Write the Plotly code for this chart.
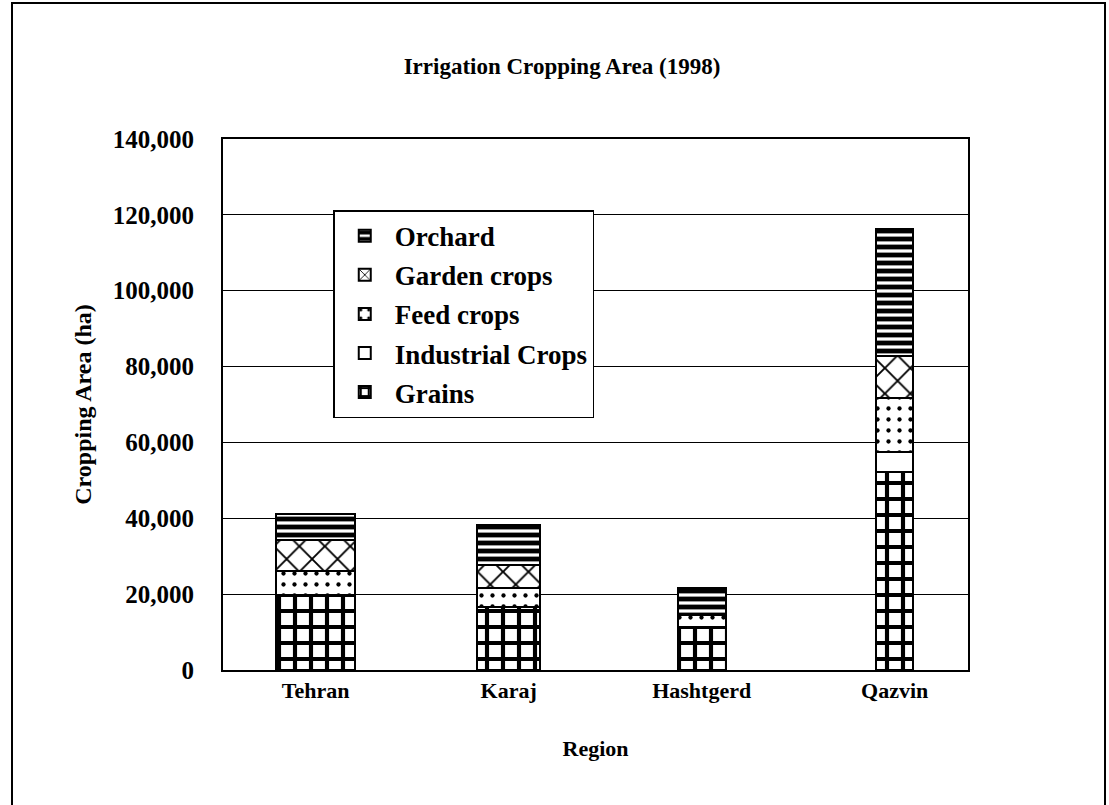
import plotly.graph_objects as go

# Irrigation cropping area by region, 1998 (ha)
regions = ["Tehran", "Karaj", "Hashtgerd", "Qazvin"]
grains = [19700, 16600, 11300, 52100]
industrial_crops = [0, 0, 0, 5300]
feed_crops = [6300, 5000, 3200, 14200]
garden_crops = [8200, 6000, 0, 11300]
orchard = [6800, 10500, 7100, 33400]

y_ticks = [0, 20000, 40000, 60000, 80000, 100000, 120000, 140000]

series = [
    ("Grains", grains, dict(shape="+", size=16, solidity=0.45)),
    ("Industrial Crops", industrial_crops, dict(shape="")),
    ("Feed crops", feed_crops, dict(shape=".", size=11, solidity=0.12)),
    ("Garden crops", garden_crops, dict(shape="x", size=18, solidity=0.2)),
    ("Orchard", orchard, dict(shape="-", size=8, solidity=0.6)),
]

bar_widths = [0.41, 0.33, 0.25, 0.19]
serif = "Liberation Serif"

fig = go.Figure()
for i, (name, vals, pat) in enumerate(series):
    fig.add_trace(go.Bar(
        name=name,
        x=regions,
        y=vals,
        width=bar_widths,
        legendgroup=f"g{i}",
        legendrank=len(series) - i,
        marker=dict(
            color="white",
            line=dict(color="black", width=2),
            pattern=dict(fgcolor="black", bgcolor="white", fgopacity=1,
                         fillmode="replace", **pat),
        ),
    ))

fig.update_layout(
    width=1109,
    height=805,
    barmode="stack",
    paper_bgcolor="white",
    plot_bgcolor="white",
    margin=dict(l=223, r=141, t=139, b=135),
    font=dict(family=serif, size=22, color="black"),
    title=dict(
        text="<b>Irrigation Cropping Area (1998)</b>",
        x=0.455, xanchor="center", xref="paper",
        y=1 - 66 / 805, yanchor="middle",
        font=dict(family=serif, size=23, color="black"),
    ),
    showlegend=True,
    legend=dict(
        x=0.148, y=0.866, xanchor="left", yanchor="top",
        traceorder="grouped",
        tracegroupgap=1,
        bgcolor="white",
        bordercolor="black",
        borderwidth=1.5,
        font=dict(family=serif, size=27, color="black", weight="bold"),
        itemwidth=50,
    ),
)

fig.update_xaxes(
    range=[-0.48, 3.38],
    showline=True, linecolor="black", linewidth=2, mirror=True,
    showgrid=False,
    ticks="",
    tickfont=dict(family=serif, size=22, color="black", weight="bold"),
    title=dict(text="<b>Region</b>", font=dict(family=serif, size=22, color="black"), standoff=38),
)
fig.update_yaxes(
    range=[0, 140000],
    tickvals=y_ticks,
    tickformat=",d",
    showline=True, linecolor="black", linewidth=2, mirror=True,
    showgrid=True, gridcolor="black", gridwidth=1,
    zeroline=False,
    ticks="",
    ticklabelstandoff=22,
    tickfont=dict(family=serif, size=25, color="black", weight="bold"),
    title=dict(text="<b>Cropping Area (ha)</b>", font=dict(family=serif, size=24, color="black"), standoff=14),
)

# page frame around the whole figure
fig.add_shape(
    type="rect", xref="paper", yref="paper",
    x0=-211 / 745, x1=1 + 137 / 745, y0=-0.3, y1=1 + 136 / 531,
    line=dict(color="black", width=2), fillcolor="rgba(0,0,0,0)", layer="above",
)

fig.write_html("out.html")
